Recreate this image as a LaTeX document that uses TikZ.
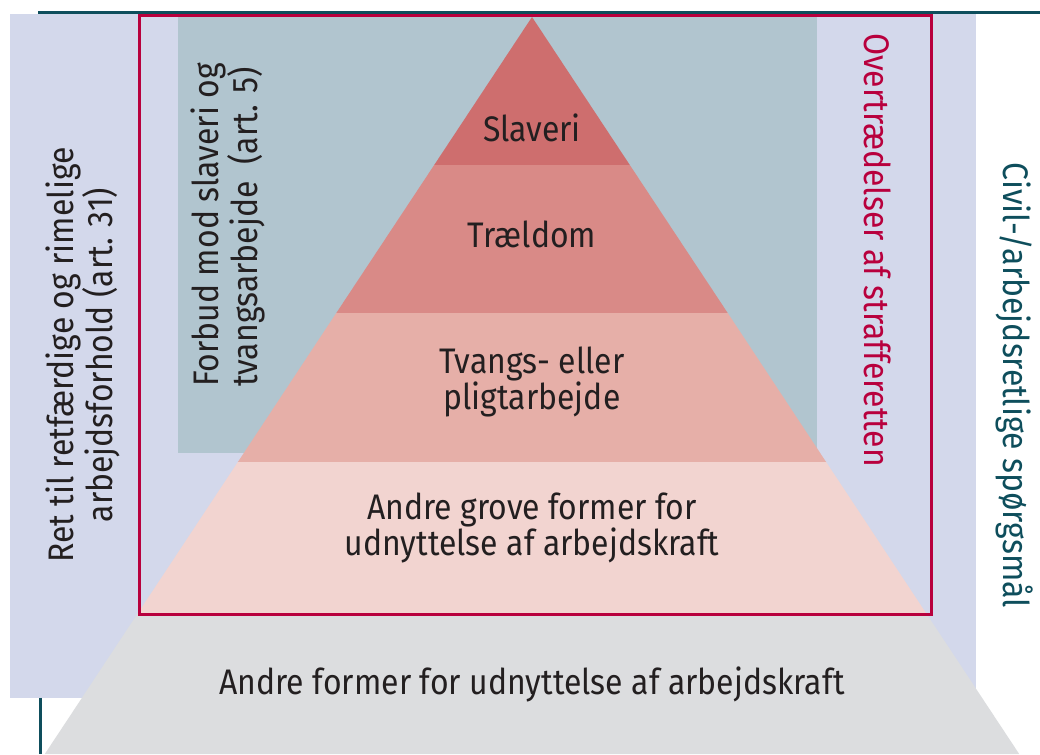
\documentclass[tikz,border=0pt]{standalone}
\usepackage{fontspec}
\setmainfont[FakeStretch=0.9]{Fira Sans}
\usepackage{xcolor}
\definecolor{lavendel}{HTML}{D3D8EB}
\definecolor{blaagraa}{HTML}{B1C5CF}
\definecolor{petrol}{HTML}{0E4E5C}
\definecolor{rod}{HTML}{B8003D}
\definecolor{lagA}{HTML}{CE6E6E}
\definecolor{lagB}{HTML}{D98A87}
\definecolor{lagC}{HTML}{E6AFA8}
\definecolor{lagD}{HTML}{F2D4D0}
\definecolor{graa}{HTML}{DCDDDF}
\definecolor{tekstgraa}{HTML}{231F20}

\tikzset{
  tekst/.style={font=\fontsize{35.5}{33}\selectfont, text=tekstgraa, align=center, inner sep=0pt},
  sidetekst/.style={tekst, font=\fontsize{35.5}{37}\selectfont},
  linje/.style={petrol, line width=3pt},
  ramme/.style={rod, line width=3pt}
}

\begin{document}
\begin{tikzpicture}[x=1pt,y=1pt]
			\useasboundingbox (0,0) rectangle (1040,754);
			\fill[lavendel] (10,56) rectangle (976,740);
			\draw[linje] (38,741.5) -- (1040,741.5);
			\draw[linje] (40,56) -- (40,0);
			\fill[blaagraa] (178,301) rectangle (817,740);
			% pyramiden
			\fill[graa] (137.4,140) -- (926.6,140) -- (1019.2,0) -- (44.8,0) -- cycle;
			\fill[lagD] (137.4,140) -- (926.6,140) -- (826.1,292) -- (237.9,292) -- cycle;
			\fill[lagC] (237.9,292) -- (826.1,292) -- (727.7,441) -- (336.3,441) -- cycle;
			\fill[lagB] (336.3,441) -- (727.7,441) -- (629.8,589) -- (434.2,589) -- cycle;
			\fill[lagA] (434.2,589) -- (629.8,589) -- (532,737) -- cycle;
			\draw[ramme] (139,139) rectangle (931.5,738.5);
			\node[tekst] (slaveri) at (532,626) {Slaveri};
			\node[tekst] (traeldom) at (532,520) {Trældom};
			\node[tekst] (tvang) at (532,372) {Tvangs- eller\\pligtarbejde};
			\node[tekst] (grove) at (532,226) {Andre grove former for\\udnyttelse af arbejdskraft};
			\node[tekst] (andre) at (532,70) {Andre former for udnyttelse af arbejdskraft};
			\node[sidetekst, rotate=90] (ret) at (83,399) {Ret til retfærdige og rimelige\\arbejdsforhold (art. 31)};
			\node[sidetekst, rotate=90, align=left] (forbud) at (228,529) {Forbud mod slaveri og\\tvangsarbejde\ \ (art. 5)};
			\node[sidetekst, rotate=-90, text=rod] (straf) at (878,504) {Overtrædelser af strafferetten};
			\node[sidetekst, rotate=-90, text=petrol] (civil) at (1015,369) {Civil-/arbejdsretlige spørgsmål};
		\end{tikzpicture}
\end{document}
